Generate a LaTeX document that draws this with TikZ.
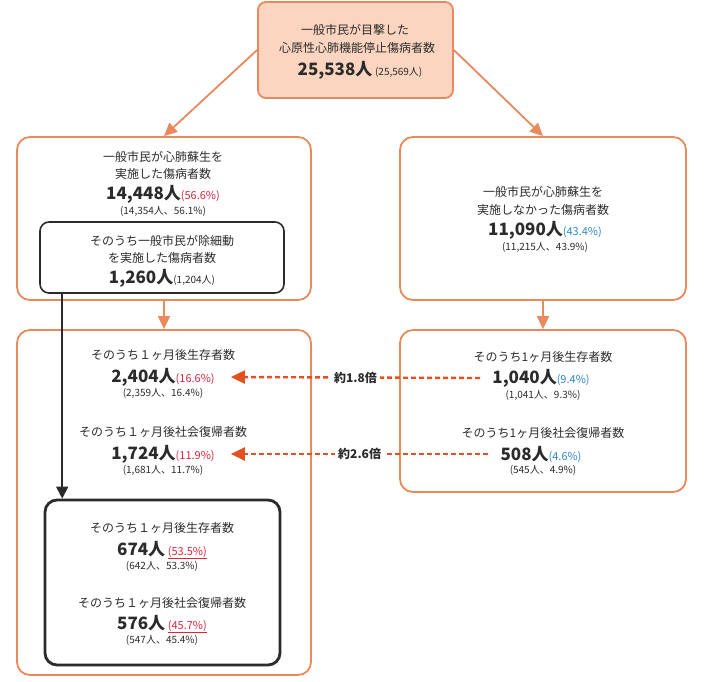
\documentclass[tikz,border=0pt]{standalone}
\usepackage{fontspec}
\setmainfont{Noto Sans CJK JP}
\usetikzlibrary{arrows.meta}
\definecolor{boxline}{HTML}{E98A5E}
\definecolor{boxfill}{HTML}{FBD5C0}
\definecolor{dashred}{HTML}{E2511F}
\definecolor{txtgray}{HTML}{2B2B2B}
\definecolor{pctred}{HTML}{D7263D}
\definecolor{pctblue}{HTML}{2E86C8}

\newcommand{\bignum}[1]{{\fontsize{17}{20}\selectfont\bfseries #1}}
\newcommand{\pct}[2]{{\fontsize{11}{13}\selectfont\color{#1}#2}}
\newcommand{\subnote}[1]{{\fontsize{10}{12}\selectfont #1}}

\tikzset{
  obox/.style={draw=boxline, line width=1.8pt, rounded corners=13pt},
  kbox/.style={draw=txtgray, rounded corners=9pt},
  txt/.style={inner sep=0pt, text=txtgray, font=\fontsize{12}{14}\selectfont},
  oarrow/.style={-{Triangle[length=13pt,width=12pt]}, boxline, line width=1.8pt},
  karrow/.style={-{Triangle[length=12pt,width=12pt]}, txtgray, line width=1.8pt},
  darrow/.style={-{Triangle[length=14pt,width=13pt]}, dashred, line width=2.4pt, dash pattern=on 5pt off 3pt}
}

\begin{document}
\begin{tikzpicture}[x=1pt,y=-1pt]
  \useasboundingbox (0,0) rectangle (711,681);

  %boxes
  \node[obox, fill=boxfill, rounded corners=8pt, minimum width=195pt, minimum height=96pt] (top) at (355.5,50) {};
  \node[obox, minimum width=294pt, minimum height=163pt] (left1) at (164,218.5) {};
  \node[obox, minimum width=286pt, minimum height=163pt] (right1) at (543,218.5) {};
  \node[kbox, line width=1.6pt, minimum width=244pt, minimum height=71pt] (aed) at (162,257.5) {};
  \node[obox, minimum width=294pt, minimum height=345pt] (left2) at (164,502.5) {};
  \node[obox, minimum width=286pt, minimum height=162pt] (right2) at (543,411) {};
  \node[kbox, line width=2.8pt, rounded corners=12pt, minimum width=235pt, minimum height=165pt] (final) at (162.5,582.5) {};

  %top
  \node[txt] (t1) at (355,30) {一般市民が目撃した};
  \node[txt] (t2) at (357,48) {心原性心肺機能停止傷病者数};
  \node[txt] (t3) at (360,70) {\bignum{25,538人} \subnote{(25,569人)}};

  %bystander cpr
  \node[txt] (l1a) at (163,157) {一般市民が心肺蘇生を};
  \node[txt] (l1b) at (163,174) {実施した傷病者数};
  \node[txt] (l1c) at (163,194) {\bignum{14,448人}\pct{pctred}{(56.6\%)}};
  \node[txt] (l1d) at (163,211) {\subnote{(14,354人、56.1\%)}};

  %defibrillation
  \node[txt] (a1) at (162,241) {そのうち一般市民が除細動};
  \node[txt] (a2) at (162,258) {を実施した傷病者数};
  \node[txt] (a3) at (162,278) {\bignum{1,260人}\subnote{(1,204人)}};

  %no cpr
  \node[txt] (r1a) at (543,192) {一般市民が心肺蘇生を};
  \node[txt] (r1b) at (543,210) {実施しなかった傷病者数};
  \node[txt] (r1c) at (545,230) {\bignum{11,090人}\pct{pctblue}{(43.4\%)}};
  \node[txt] (r1d) at (545,247) {\subnote{(11,215人、43.9\%)}};

  %outcome cpr
  \node[txt] (l2a) at (163,355) {そのうち１ヶ月後生存者数};
  \node[txt] (lsurv) at (163,377) {\bignum{2,404人}\pct{pctred}{(16.6\%)}};
  \node[txt] (l2c) at (163,393) {\subnote{(2,359人、16.4\%)}};
  \node[txt] (l2d) at (163,432) {そのうち１ヶ月後社会復帰者数};
  \node[txt] (lsoc) at (163,454) {\bignum{1,724人}\pct{pctred}{(11.9\%)}};
  \node[txt] (l2f) at (163,470) {\subnote{(1,681人、11.7\%)}};

  %outcome no cpr
  \node[txt] (r2a) at (543,357) {そのうち1ヶ月後生存者数};
  \node[txt] (rsurv) at (541,378) {\bignum{1,040人}\pct{pctblue}{(9.4\%)}};
  \node[txt] (r2c) at (543,395) {\subnote{(1,041人、9.3\%)}};
  \node[txt] (r2d) at (543,433) {そのうち1ヶ月後社会復帰者数};
  \node[txt] (rsoc) at (541,454) {\bignum{508人}\pct{pctblue}{(4.6\%)}};
  \node[txt] (r2f) at (543,470) {\subnote{(545人、4.9\%)}};

  %outcome aed
  \node[txt] (f1) at (162,528) {そのうち１ヶ月後生存者数};
  \node[txt] (f2) at (162,550) {\bignum{674人} \pct{pctred}{\underline{(53.5\%)}}};
  \node[txt] (f3) at (162,566) {\subnote{(642人、53.3\%)}};
  \node[txt] (f4) at (162,603) {そのうち１ヶ月後社会復帰者数};
  \node[txt] (f5) at (162,624) {\bignum{576人} \pct{pctred}{\underline{(45.7\%)}}};
  \node[txt] (f6) at (162,640) {\subnote{(547人、45.4\%)}};

  %arrows
  \draw[oarrow] (top.west) -- (left1.north);
  \draw[oarrow] (top.east) -- (right1.north);
  \draw[oarrow] (left1.south) -- (left2.north);
  \draw[oarrow] (right1.south) -- (right2.north);
  \draw[karrow] ([xshift=23pt]aed.south west) -- ([xshift=23pt]aed.south west |- final.north);

  %ratios
  \draw[darrow] ([xshift=-12pt]rsurv.west) -- ([xshift=16pt]lsurv.east)
    node[midway, fill=white, inner sep=3pt, text=txtgray, font=\fontsize{12}{14}\selectfont\bfseries] (ratio1) {約1.8倍};
  \draw[darrow] ([xshift=-12pt]rsoc.west) -- ([xshift=16pt]lsoc.east)
    node[midway, fill=white, inner sep=3pt, text=txtgray, font=\fontsize{12}{14}\selectfont\bfseries] (ratio2) {約2.6倍};

\end{tikzpicture}
\end{document}
